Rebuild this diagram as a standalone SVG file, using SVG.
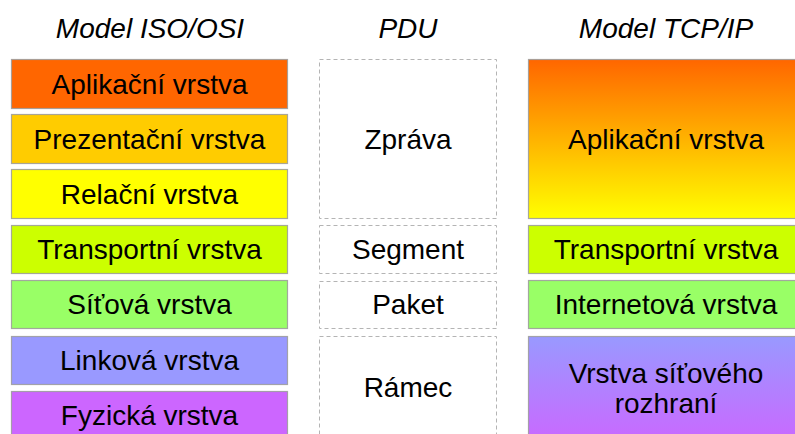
<svg xmlns="http://www.w3.org/2000/svg" width="795" height="434" viewBox="0 0 795 434">
  <style>
    text { font-family: "Liberation Sans", Arial, sans-serif; font-size: 28px; fill: #000; text-anchor: middle; }
    .title { font-style: italic; }
    .layer { stroke: #9a9a9a; stroke-width: 1.2; stroke-opacity: 0.85; }
    .pdu { fill: #fff; stroke: #b4b4b4; stroke-width: 1; stroke-dasharray: 4 3; }
  </style>
  <defs>
    <linearGradient id="gApp" x1="0" y1="0" x2="0" y2="1">
      <stop offset="0" stop-color="#ff6600"/>
      <stop offset="1" stop-color="#ffff00"/>
    </linearGradient>
    <linearGradient id="gNet" x1="0" y1="0" x2="0" y2="1">
      <stop offset="0" stop-color="#9999ff"/>
      <stop offset="1" stop-color="#cc66ff"/>
    </linearGradient>
  </defs>

  <rect width="795" height="434" fill="#fff"/>

  <!-- column headings -->
  <g id="headings">
    <text class="title" x="150" y="38">Model ISO/OSI</text>
    <text class="title" x="408" y="38">PDU</text>
    <text class="title" x="666" y="38">Model TCP/IP</text>
  </g>

  <!-- ISO/OSI layers -->
  <g id="osi-application">
    <rect class="layer" x="11.5" y="59.5" width="276" height="49" fill="#ff6600"/>
    <text x="149.5" y="93.5">Aplikační vrstva</text>
  </g>
  <g id="osi-presentation">
    <rect class="layer" x="11.5" y="114.5" width="276" height="49" fill="#ffcc00"/>
    <text x="149.5" y="148.5">Prezentační vrstva</text>
  </g>
  <g id="osi-session">
    <rect class="layer" x="11.5" y="169.5" width="276" height="49" fill="#ffff00"/>
    <text x="149.5" y="203.5">Relační vrstva</text>
  </g>
  <g id="osi-transport">
    <rect class="layer" x="11.5" y="225.5" width="276" height="48" fill="#ccff00"/>
    <text x="149.5" y="259">Transportní vrstva</text>
  </g>
  <g id="osi-network">
    <rect class="layer" x="11.5" y="280.5" width="276" height="48" fill="#99ff66"/>
    <text x="149.5" y="314">Síťová vrstva</text>
  </g>
  <g id="osi-link">
    <rect class="layer" x="11.5" y="336.5" width="276" height="48" fill="#9999ff"/>
    <text x="149.5" y="370">Linková vrstva</text>
  </g>
  <g id="osi-physical">
    <rect class="layer" x="11.5" y="391.5" width="276" height="50" fill="#cc66ff"/>
    <text x="149.5" y="425">Fyzická vrstva</text>
  </g>

  <!-- PDU names -->
  <g id="pdu-message">
    <rect class="pdu" x="319.5" y="59.5" width="177" height="159"/>
    <text x="408" y="148.5">Zpráva</text>
  </g>
  <g id="pdu-segment">
    <rect class="pdu" x="319.5" y="225.5" width="177" height="48"/>
    <text x="408" y="259">Segment</text>
  </g>
  <g id="pdu-packet">
    <rect class="pdu" x="319.5" y="281.5" width="177" height="47"/>
    <text x="408" y="314">Paket</text>
  </g>
  <g id="pdu-frame">
    <rect class="pdu" x="319.5" y="336.5" width="177" height="110"/>
    <text x="408" y="397">Rámec</text>
  </g>

  <!-- TCP/IP layers -->
  <g id="tcpip-application">
    <rect class="layer" x="528.5" y="59.5" width="276" height="159" fill="url(#gApp)"/>
    <text x="666" y="148.5">Aplikační vrstva</text>
  </g>
  <g id="tcpip-transport">
    <rect class="layer" x="528.5" y="225.5" width="276" height="48" fill="#ccff00"/>
    <text x="666" y="259">Transportní vrstva</text>
  </g>
  <g id="tcpip-internet">
    <rect class="layer" x="528.5" y="280.5" width="276" height="48" fill="#99ff66"/>
    <text x="666" y="314">Internetová vrstva</text>
  </g>
  <g id="tcpip-network-access">
    <rect class="layer" x="528.5" y="336.5" width="276" height="110" fill="url(#gNet)"/>
    <text x="666" y="383">Vrstva síťového</text>
    <text x="666" y="413">rozhraní</text>
  </g>

  <g id="connectors"/>
</svg>
